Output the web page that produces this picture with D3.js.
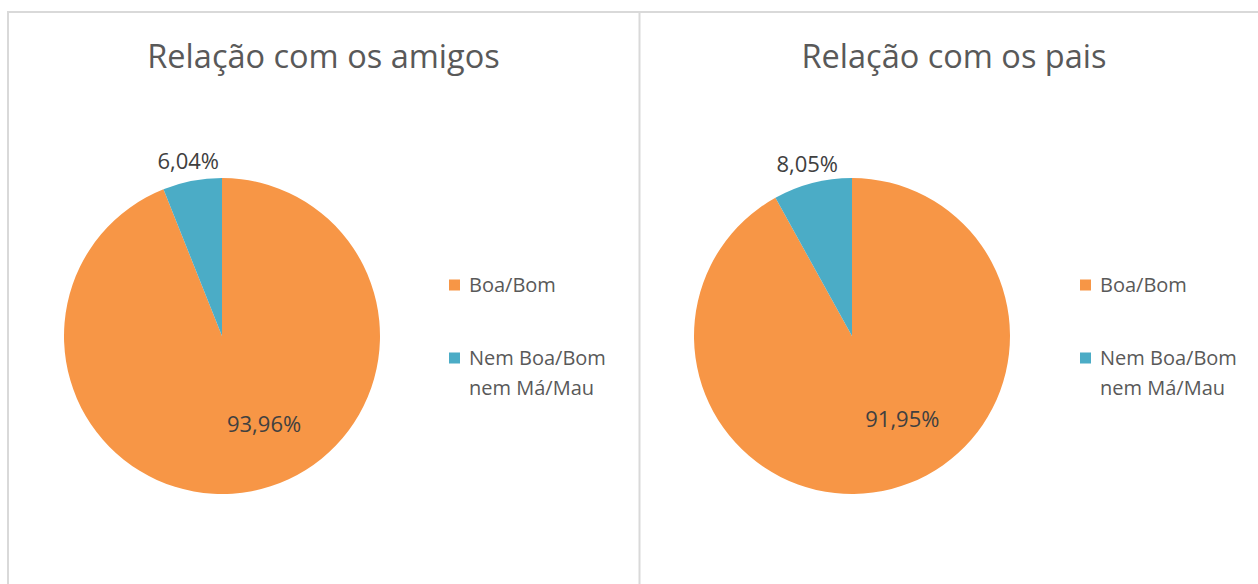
<!DOCTYPE html>
<html>
<head>
<meta charset="utf-8">
<script src="https://cdn.jsdelivr.net/npm/d3@7"></script>
<style>
  body { margin: 0; background: #fff; }
  text { font-family: 'Open Sans', sans-serif; }
</style>
</head>
<body>
<div id="chart"></div>
<script>
// data
const titles = ['Relação com os amigos', 'Relação com os pais'];
const categories = ['Boa/Bom', 'Nem Boa/Bom nem Má/Mau'];
const legendLines = [['Boa/Bom'], ['Nem Boa/Bom', 'nem Má/Mau']];
const amigos = [93.96, 6.04];
const pais = [91.95, 8.05];
const series = [amigos, pais];

const width = 1258, height = 584;
const colors = d3.scaleOrdinal().domain(categories).range(['#F79646', '#4BACC6']);
const fmt = v => d3.format('.2f')(v).replace('.', ',') + '%';

const panels = [
	{ x: 8, w: 631, cx: 214 },
	{ x: 640, w: 628, cx: 212 }
];
const frameTop = 12;
const radius = 158;
// inside label angle shift (Excel best-fit placement)
const insideShift = [-15, -17];

const svg = d3.select('#chart').append('svg').attr('width', width).attr('height', height);

// frame
svg.append('line').attr('x1', 8).attr('x2', width).attr('y1', frameTop).attr('y2', frameTop)
	.attr('stroke', '#d9d9d9').attr('stroke-width', 2);
svg.append('line').attr('x1', 8).attr('x2', 8).attr('y1', frameTop - 1).attr('y2', height)
	.attr('stroke', '#d9d9d9').attr('stroke-width', 2);
svg.append('line').attr('x1', 639.5).attr('x2', 639.5).attr('y1', frameTop).attr('y2', height)
	.attr('stroke', '#d9d9d9').attr('stroke-width', 2);

const pie = d3.pie().sort(null).value(d => d.value);
const arc = d3.arc().innerRadius(0).outerRadius(radius);

panels.forEach(function(p, i) {
	const g = svg.append('g').attr('transform', `translate(${p.x}, 0)`);

	g.append('text')
		.attr('x', p.w / 2)
		.attr('y', 68)
		.attr('text-anchor', 'middle')
		.attr('font-size', 32.5)
		.attr('fill', '#595959')
		.text(titles[i]);

	const data = categories.map((c, j) => ({ cat: c, value: series[i][j] }));
	const arcs = pie(data);
	const pg = g.append('g').attr('transform', `translate(${p.cx}, 336)`);

	pg.selectAll('path')
		.data(arcs)
		.enter()
		.append('path')
		.attr('d', arc)
		.attr('fill', d => colors(d.data.cat));

	// labels
	pg.selectAll('text.lbl')
		.data(arcs)
		.enter()
		.append('text')
		.attr('class', 'lbl')
		.attr('text-anchor', 'middle')
		.attr('dominant-baseline', 'central')
		.attr('font-size', 22)
		.attr('fill', '#404040')
		.attr('transform', function(d, j) {
			let a = (d.startAngle + d.endAngle) / 2;
			let r;
			if (j === 0) {
				a += insideShift[i] * Math.PI / 180;
				r = radius * 0.61;
			} else {
				r = radius + 21;
			}
			return `translate(${Math.sin(a) * r}, ${-Math.cos(a) * r})`;
		})
		.text(d => fmt(d.data.value));

	// legend
	const lg = g.append('g').attr('transform', `translate(${441 - i}, 0)`);
	const legendY = [285, 358];
	categories.forEach(function(c, j) {
		lg.append('rect')
			.attr('x', 0)
			.attr('y', legendY[j] - 5.5)
			.attr('width', 11)
			.attr('height', 11)
			.attr('fill', colors(c));
		const t = lg.append('text')
			.attr('x', 20)
			.attr('y', legendY[j])
			.attr('font-size', 20)
			.attr('fill', '#595959');
		legendLines[j].forEach(function(line, k) {
			t.append('tspan')
				.attr('x', 20)
				.attr('y', legendY[j] + 7 + k * 30)
				.text(line);
		});
	});
});
</script>
</body>
</html>
